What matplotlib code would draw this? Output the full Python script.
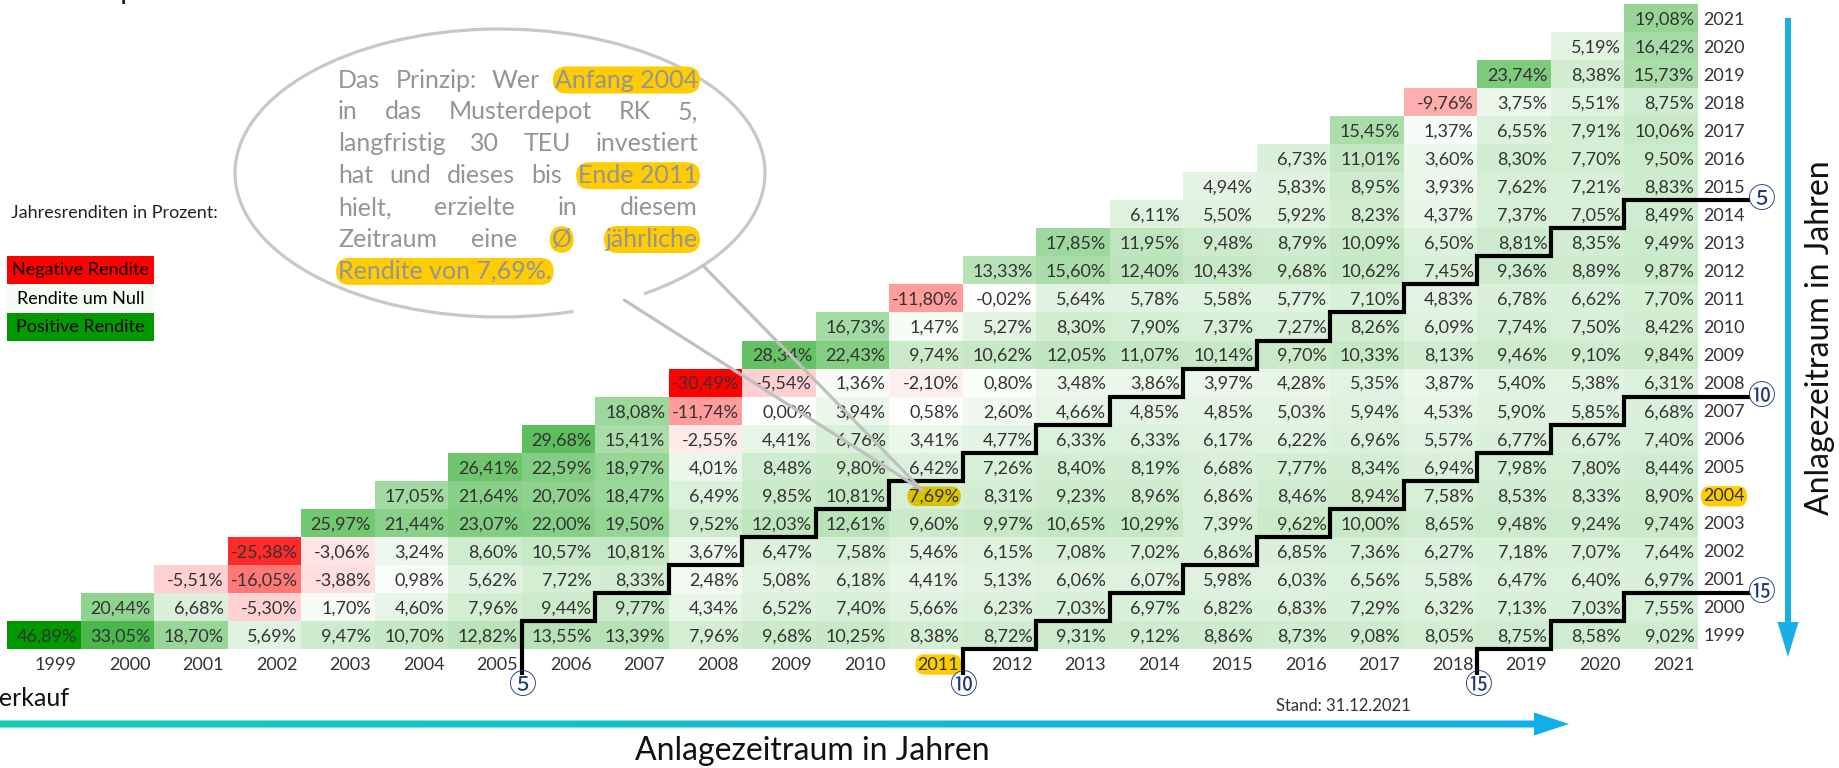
import numpy as np
import matplotlib

matplotlib.use("Agg")
import matplotlib.pyplot as plt
from matplotlib.colors import LinearSegmentedColormap, TwoSlopeNorm
from matplotlib.patches import Arc, FancyArrow, Polygon, Rectangle

# years: rows = year of purchase (start of year), columns = year of sale (end of year)
years = list(range(1999, 2022))

# average annual return in %, each row starts at sale year == purchase year
ret_1999 = [46.89, 33.05, 18.70, 5.69, 9.47, 10.70, 12.82, 13.55, 13.39, 7.96, 9.68, 10.25,
            8.38, 8.72, 9.31, 9.12, 8.86, 8.73, 9.08, 8.05, 8.75, 8.58, 9.02]
ret_2000 = [20.44, 6.68, -5.30, 1.70, 4.60, 7.96, 9.44, 9.77, 4.34, 6.52, 7.40, 5.66, 6.23,
            7.03, 6.97, 6.82, 6.83, 7.29, 6.32, 7.13, 7.03, 7.55]
ret_2001 = [-5.51, -16.05, -3.88, 0.98, 5.62, 7.72, 8.33, 2.48, 5.08, 6.18, 4.41, 5.13, 6.06,
            6.07, 5.98, 6.03, 6.56, 5.58, 6.47, 6.40, 6.97]
ret_2002 = [-25.38, -3.06, 3.24, 8.60, 10.57, 10.81, 3.67, 6.47, 7.58, 5.46, 6.15, 7.08, 7.02,
            6.86, 6.85, 7.36, 6.27, 7.18, 7.07, 7.64]
ret_2003 = [25.97, 21.44, 23.07, 22.00, 19.50, 9.52, 12.03, 12.61, 9.60, 9.97, 10.65, 10.29,
            7.39, 9.62, 10.00, 8.65, 9.48, 9.24, 9.74]
ret_2004 = [17.05, 21.64, 20.70, 18.47, 6.49, 9.85, 10.81, 7.69, 8.31, 9.23, 8.96, 6.86, 8.46,
            8.94, 7.58, 8.53, 8.33, 8.90]
ret_2005 = [26.41, 22.59, 18.97, 4.01, 8.48, 9.80, 6.42, 7.26, 8.40, 8.19, 6.68, 7.77, 8.34,
            6.94, 7.98, 7.80, 8.44]
ret_2006 = [29.68, 15.41, -2.55, 4.41, 6.76, 3.41, 4.77, 6.33, 6.33, 6.17, 6.22, 6.96, 5.57,
            6.77, 6.67, 7.40]
ret_2007 = [18.08, -11.74, 0.00, 3.94, 0.58, 2.60, 4.66, 4.85, 4.85, 5.03, 5.94, 4.53, 5.90,
            5.85, 6.68]
ret_2008 = [-30.49, -5.54, 1.36, -2.10, 0.80, 3.48, 3.86, 3.97, 4.28, 5.35, 3.87, 5.40, 5.38, 6.31]
ret_2009 = [28.34, 22.43, 9.74, 10.62, 12.05, 11.07, 10.14, 9.70, 10.33, 8.13, 9.46, 9.10, 9.84]
ret_2010 = [16.73, 1.47, 5.27, 8.30, 7.90, 7.37, 7.27, 8.26, 6.09, 7.74, 7.50, 8.42]
ret_2011 = [-11.80, -0.02, 5.64, 5.78, 5.58, 5.77, 7.10, 4.83, 6.78, 6.62, 7.70]
ret_2012 = [13.33, 15.60, 12.40, 10.43, 9.68, 10.62, 7.45, 9.36, 8.89, 9.87]
ret_2013 = [17.85, 11.95, 9.48, 8.79, 10.09, 6.50, 8.81, 8.35, 9.49]
ret_2014 = [6.11, 5.50, 5.92, 8.23, 4.37, 7.37, 7.05, 8.49]
ret_2015 = [4.94, 5.83, 8.95, 3.93, 7.62, 7.21, 8.83]
ret_2016 = [6.73, 11.01, 3.60, 8.30, 7.70, 9.50]
ret_2017 = [15.45, 1.37, 6.55, 7.91, 10.06]
ret_2018 = [-9.76, 3.75, 5.51, 8.75]
ret_2019 = [23.74, 8.38, 15.73]
ret_2020 = [5.19, 16.42]
ret_2021 = [19.08]

rows = [ret_1999, ret_2000, ret_2001, ret_2002, ret_2003, ret_2004, ret_2005, ret_2006,
        ret_2007, ret_2008, ret_2009, ret_2010, ret_2011, ret_2012, ret_2013, ret_2014,
        ret_2015, ret_2016, ret_2017, ret_2018, ret_2019, ret_2020, ret_2021]

# holding-period staircases: label, column offset of the step, shift of the foot
stair_labels = [5, 10, 15]
stair_offsets = [6, 13, 20]
stair_feet = [0, -1, -1]

example_buy, example_sell = 2004, 2011

legend_labels = ["Negative Rendite", "Rendite um Null", "Positive Rendite"]

bubble_lines = [
    [("Das", 0), ("Prinzip:", 0), ("Wer", 0), ("Anfang 2004", 1)],
    [("in", 0), ("das", 0), ("Musterdepot", 0), ("RK", 0), ("5,", 0)],
    [("langfristig", 0), ("30", 0), ("TEU", 0), ("investiert", 0)],
    [("hat", 0), ("und", 0), ("dieses", 0), ("bis", 0), ("Ende 2011", 1)],
    [("hielt,", 0), ("erzielte", 0), ("in", 0), ("diesem", 0)],
    [("Zeitraum", 0), ("eine", 0), ("Ø", 1), ("jährliche", 1)],
    [("Rendite von 7,69%.", 1)],
]

W, H = 1839, 768
TXT = "#333333"
YELLOW = "#ffcc00"
NAVY = "#1f3a7a"

plt.rcParams["font.family"] = ["Lato", "DejaVu Sans"]


def pct(v):
    return f"{v:.2f}".replace(".", ",") + "%"


fig = plt.figure(figsize=(W / 100, H / 100), dpi=100)
fig.patch.set_facecolor("white")

# ---- heat triangle ----
ax = fig.add_axes([7 / W, 1 - 649 / H, 1691 / W, 645 / H])
n = len(years)
grid = np.full((n, n), np.nan)
for i, row in enumerate(rows):
    grid[i, i:i + len(row)] = row

cmap = LinearSegmentedColormap.from_list("rg", ["#ff0000", "#ffffff", "#009900"])
norm = TwoSlopeNorm(vmin=np.nanmin(grid), vcenter=0.0, vmax=np.nanmax(grid))
edges = np.arange(n + 1) - 0.5
ax.pcolormesh(edges, edges, np.ma.masked_invalid(grid), cmap=cmap, norm=norm,
              shading="flat", antialiased=False, linewidth=0)
ax.set_xlim(-0.5, n - 0.5)
ax.set_ylim(-0.5, n - 0.5)
ax.axis("off")

hl_i = years.index(example_buy)
hl_j = years.index(example_sell)
for i in range(n):
    for j in range(i, n):
        t = ax.text(j + 0.45, i, pct(grid[i, j]), ha="right", va="center_baseline",
                    fontsize=13, color=TXT, zorder=3)
        if (i, j) == (hl_i, hl_j):
            t.set_bbox(dict(boxstyle="round,pad=0.1,rounding_size=0.55", fc="#d9c100", ec="none"))

for j, yr in enumerate(years):
    t = ax.text(j + 0.45, -1.0, str(yr), ha="right", va="center_baseline", fontsize=13,
                color=TXT, clip_on=False)
    if yr == example_sell:
        t.set_bbox(dict(boxstyle="round,pad=0.12,rounding_size=0.5", fc=YELLOW, ec="none"))
for i, yr in enumerate(years):
    t = ax.text(22.57, i, str(yr), ha="left", va="center_baseline", fontsize=13,
                color=TXT, clip_on=False)
    if yr == example_buy:
        t.set_bbox(dict(boxstyle="round,pad=0.12,rounding_size=0.5", fc=YELLOW, ec="none"))

# staircases
foot_y = -1.83
right_x = 23.36
for lab, k, foot in zip(stair_labels, stair_offsets, stair_feet):
    last = (n - 2) - k
    xs = [k + 0.5 + foot, k + 0.5 + foot]
    ys = [foot_y + 0.4, -0.5]
    for r in range(last + 1):
        xs += [r + k + 0.5, r + k + 0.5]
        ys += [r - 0.5, r + 0.5]
    xs.append(right_x - 0.15)
    ys.append(last + 0.5)
    ax.plot(xs, ys, color="black", lw=3.0, solid_joinstyle="miter", solid_capstyle="butt",
            clip_on=False, zorder=4)
    mark = chr(0x2460 + lab - 1)
    for px, py in [(k + 0.5 + foot, foot_y), (right_x, last + 0.5)]:
        ax.text(px, py, mark, ha="center", va="center", fontsize=20, color=NAVY,
                family=["Noto Sans CJK JP", "DejaVu Sans"], clip_on=False, zorder=5)

# ---- overlay in pixel coordinates ----
ov = fig.add_axes([0, 0, 1, 1])
ov.patch.set_alpha(0)

ov.text(11, 213, "Jahresrenditen in Prozent:", fontsize=13, va="center", color="#222222")
legend_colors = [cmap(norm(np.nanmin(grid))), "#f7fbf5", cmap(norm(np.nanmax(grid)))]
for k, (lab, col) in enumerate(zip(legend_labels, legend_colors)):
    y0 = 256 + k * 28.5
    ov.add_patch(Rectangle((7, y0), 147, 27.5, fc=col, ec="none"))
    ov.text(7 + 147 / 2, y0 + 14, lab, ha="center", va="center", fontsize=13, color="black")

# speech bubble
cx, cy, a, b = 500, 173, 265, 144
t1, t2 = 62, 40
ov.add_patch(Arc((cx, cy), 2 * a, 2 * b, theta1=t1, theta2=t2 + 360, color="#c8c8c8", lw=2.3))
tip = (922, 490)
for t in (t1, t2):
    p = (cx + a * np.cos(np.radians(t)), cy + b * np.sin(np.radians(t)))
    ov.plot([p[0], tip[0]], [p[1], tip[1]], color="#c0c0c0", lw=2.3, solid_capstyle="round")

renderer = fig.canvas.get_renderer()
x_left, x_right = 338, 698
for li, line in enumerate(bubble_lines):
    y = 80 + li * 31.9
    objs = []
    for word, hl in line:
        t = ov.text(0, y, word, fontsize=18, color="#959595", va="center", ha="left")
        if hl:
            t.set_bbox(dict(boxstyle="round,pad=0.08,rounding_size=0.55", fc=YELLOW, ec="none"))
        objs.append(t)
    widths = [t.get_window_extent(renderer).width for t in objs]
    if li == len(bubble_lines) - 1 or len(objs) == 1:
        gap = 7
    else:
        gap = (x_right - x_left - sum(widths)) / (len(objs) - 1)
    x = x_left
    for t, w in zip(objs, widths):
        t.set_x(x)
        x += w + gap

# axis arrows
ov.add_patch(FancyArrow(1788, 18, 0, 657 - 18, width=6, head_width=21, head_length=35,
                        length_includes_head=True, color="#1aaee6", lw=0))
ov.text(1820, 338, "Anlagezeitraum in Jahren", rotation=90, ha="center", va="center",
        fontsize=23, color="#111111")

arrow = Polygon([(0, 720.5), (1534, 720.5), (1534, 712.5), (1569, 724), (1534, 735.5),
                 (1534, 727.5), (0, 727.5)], closed=True, fc="none", ec="none")
ov.add_patch(arrow)
grad_cmap = LinearSegmentedColormap.from_list("teal_blue", ["#12cdb4", "#10afec"])
im = ov.imshow(np.linspace(0, 1, 256).reshape(1, -1), cmap=grad_cmap,
               extent=[0, 1569, 736, 712], aspect="auto")
im.set_clip_path(arrow)

ov.text(812, 751, "Anlagezeitraum in Jahren", ha="center", va="center", fontsize=23,
        color="#111111")
ov.text(1276, 706, "Stand: 31.12.2021", ha="left", va="center", fontsize=12, color="#333333")
ov.text(70, 706, "Verkauf", ha="right", va="baseline", fontsize=18, color="#111111")

top = ov.text(0, -1, "Kaufzeitpunkt", ha="left", va="baseline", fontsize=20, color="#111111")
pre = ov.text(0, -100, "Kaufzeit", fontsize=20)
top.set_x(121 - pre.get_window_extent(renderer).width)
pre.remove()

ov.set_xlim(0, W)
ov.set_ylim(H, 0)
ov.axis("off")

fig.savefig("out.png", dpi=100)
